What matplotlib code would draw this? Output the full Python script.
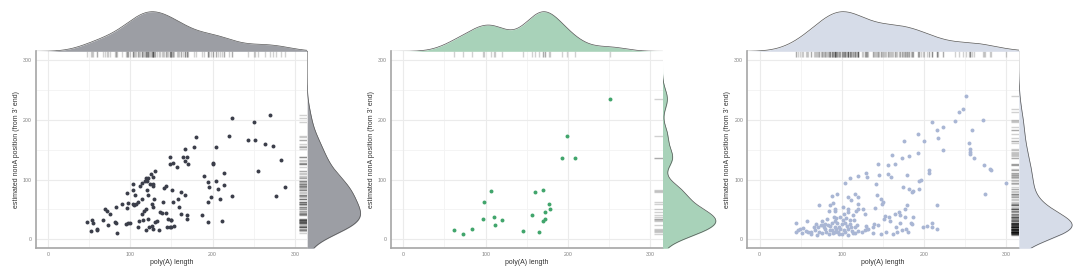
import matplotlib
matplotlib.use('Agg')
import matplotlib.pyplot as plt
import numpy as np

plt.rcParams['font.family'] = ['Liberation Sans', 'DejaVu Sans']

# panel 1 (dark grey)
p1_x = [47, 53, 55, 52, 60, 60, 67, 69, 72, 75, 73, 81, 82, 84, 83, 90, 97, 96, 95, 97,
        100, 96, 103, 103, 103, 104, 107, 109, 106, 114, 110, 109, 114, 112, 114, 118, 120, 119, 122, 120,
        121, 117, 119, 116, 121, 125, 128, 130, 124, 127, 128, 129, 126, 127, 130, 132, 123, 126, 119, 128,
        135, 136, 138, 143, 140, 141, 143, 146, 149, 148, 148, 148, 144,
        224, 270, 250, 180, 219.5, 243, 252, 264, 274, 166, 178, 204.5, 164, 169.5, 167, 170, 152, 157, 200, 201,
        283, 255, 189, 214, 194, 204.5, 196, 214, 207, 288, 277, 224, 197.5, 208.5, 194, 151, 162, 166, 158, 152,
        159, 161, 169, 169, 187, 195, 212, 150, 153, 150]
p1_y = [29, 32, 27, 14, 18, 15, 33, 51, 48, 43, 24, 29, 27, 11, 54, 59, 61, 52, 26, 28,
        27, 78, 93, 83, 60, 57, 59, 63, 74, 43, 31, 21, 68, 90, 94, 97, 97, 102, 102, 82,
        74, 48, 51, 32, 34, 109, 104, 114, 93, 93, 89, 68, 59, 55, 29, 31, 21, 23, 15, 17,
        16, 46, 44, 44, 62, 86, 89, 34, 33, 21, 138, 126, 20,
        203, 209, 196, 171, 173, 167, 166, 160, 156, 151, 154, 154, 138, 138, 132, 127, 128, 120.5, 128, 127,
        133, 115, 106, 110.5, 96, 97, 88, 91, 85, 88, 72, 72, 71, 67, 63, 82, 80, 74, 68, 62,
        54, 43, 41, 34, 40, 29, 30, 33, 22, 20]

# panel 2 (green)
p2_x = [251.6, 199, 193, 209, 106, 160, 170, 98, 177, 178, 156, 172, 97, 110, 120, 112, 172, 170,
        61, 73, 84, 146, 165]
p2_y = [235, 173, 136, 137, 81, 79, 82, 62, 59, 51, 41, 45, 34, 38, 32, 24, 34, 31,
        15, 9, 18, 14, 13]

# panel 3 (blue grey)
p3_x = [44, 44, 57, 49, 53, 52, 59, 63, 69, 71, 67, 72, 70, 74, 77, 80, 83, 79, 81, 86,
        85, 91, 93, 89, 95, 98, 100, 102, 100, 107, 111, 114, 116, 120, 72, 84, 85, 88, 89, 94,
        91, 92, 90, 93, 91, 101, 104, 110, 119, 107, 111, 116, 120, 107, 108, 102, 110, 105, 120, 117,
        119, 113, 101, 115,
        47, 56, 62, 66, 76, 78, 84, 88, 92, 96, 97, 104, 106, 108, 112, 116, 118, 88, 94, 110,
        82, 76, 98, 104,
        251, 242, 247, 272, 238, 210, 223, 216, 258, 193, 217, 175.5, 200, 254, 256, 256, 256, 223, 260, 193,
        181, 173, 161, 165, 156, 144, 273, 280, 281, 206, 206, 129, 131, 145, 156, 160, 179, 196, 194, 142,
        274, 174, 182, 187, 185, 194, 143, 147, 150, 149, 179, 216, 140, 126, 177, 128, 164, 169, 171, 177,
        186, 152, 157, 151, 158, 170, 166, 173, 184, 185, 178, 180, 199, 203, 209, 210, 216, 162, 167, 154,
        147, 139, 144, 138, 138, 132, 129, 128, 130, 125, 299]
p3_y = [28, 12, 30, 17, 19, 11, 12, 12, 26, 20, 15, 13, 8, 24, 24, 26, 24, 17, 12, 22,
        15, 20, 18, 11, 13, 17, 25, 15, 9, 18, 20, 11, 20, 14, 57, 47, 57, 73, 61, 76,
        50, 47, 37, 36, 31, 55, 95, 103, 106, 71, 66, 76, 71, 50, 45, 43, 32, 36, 60, 47,
        50, 41, 33, 32,
        15, 14, 9, 20, 10, 20, 9, 16, 12, 21, 9, 12, 22, 8, 14, 10, 24, 27, 28, 26,
        34, 30, 38, 28,
        240, 214, 219, 200, 198, 197, 189, 184, 184, 177, 170, 165, 164, 161, 151, 147, 143, 150, 136, 145,
        140, 136, 141, 126, 125, 127, 125, 118, 116, 117, 111, 111, 104, 107, 109, 104, 107, 99, 97, 92,
        76, 88, 85, 81, 79, 84, 75, 68, 63, 59, 58, 57, 52, 50, 50, 42, 42, 45, 40, 37,
        37, 39, 37, 34, 30, 28, 21, 16, 27, 25, 17, 12, 20, 22, 28, 21, 17, 9, 13, 12,
        9, 26, 24, 21, 10, 18, 23, 15, 17, 13, 94]

ticks = [0, 100, 200, 300]
tick_labels = ['0', '100', '200', '300']

W, H = 1088, 278


def fbox(x0, y0, x1, y1):
  # pixel box (top-left origin) -> figure fraction rect
  return [x0 / W, 1 - y1 / H, (x1 - x0) / W, (y1 - y0) / H]


def kde(v, grid, adjust):
  v = np.asarray(v, float)
  n = len(v)
  iqr = np.subtract(*np.percentile(v, [75, 25]))
  bw = adjust * 0.9 * min(v.std(ddof=1), iqr / 1.34) * n ** -0.2
  z = (grid[:, None] - v[None, :]) / bw
  return np.exp(-0.5 * z ** 2).sum(axis=1) / (n * bw * np.sqrt(2 * np.pi))


def draw_panel(fig, left, xs, ys, pcol, fcol, adjust):
  top, bottom, width = 51.3, 248.3, 271.5
  right = left + width
  lim = (-15, 315)

  ax = fig.add_axes(fbox(left, top, right, bottom))
  ax.set_xlim(lim)
  ax.set_ylim(lim)
  for s in ['top', 'right']:
    ax.spines[s].set_visible(False)
  for s in ['left', 'bottom']:
    ax.spines[s].set_color('#a6a6a6')
    ax.spines[s].set_linewidth(1.2)
  for v in [50, 150, 250]:
    ax.axvline(v, color='#f3f3f3', lw=0.6, zorder=0)
    ax.axhline(v, color='#f3f3f3', lw=0.6, zorder=0)
  for v in ticks:
    ax.axvline(v, color='#ebebeb', lw=0.8, zorder=0)
    ax.axhline(v, color='#ebebeb', lw=0.8, zorder=0)
  ax.set_xticks(ticks)
  ax.set_xticklabels(tick_labels)
  ax.set_yticks(ticks)
  ax.set_yticklabels(tick_labels)
  ax.tick_params(length=0, labelsize=3.8, colors='#808080', pad=3)

  ax.scatter(xs, ys, s=8, color=pcol, linewidths=0, zorder=3)
  ax.vlines(xs, 0.97, 1.0, transform=ax.get_xaxis_transform(), color='black', alpha=0.18, lw=1.0)
  ax.hlines(ys, 0.97, 1.0, transform=ax.get_yaxis_transform(), color='black', alpha=0.18, lw=1.0)

  fig.text((left + right) / 2 / W, 1 - 262.7 / H, 'poly(A) length', ha='center', va='center',
           fontsize=5, color='#333333')
  fig.text((left - 19.5) / W, 1 - (top + bottom) / 2 / H, "estimated nonA position (from 3' end)",
           rotation=90, ha='center', va='center', fontsize=5, color='#333333')

  grid = np.linspace(lim[0], lim[1], 400)

  dx = kde(xs, grid, adjust)
  axt = fig.add_axes(fbox(left, top - 41.6, right, top))
  axt.fill_between(grid, 0, dx, color=fcol, lw=0)
  axt.plot(grid, dx, color='#555555', lw=0.5)
  axt.set_xlim(lim)
  axt.set_ylim(0, dx.max() * 1.05)
  axt.axis('off')

  dy = kde(ys, grid, adjust)
  axr = fig.add_axes(fbox(right, top, right + 56, bottom))
  axr.fill_betweenx(grid, 0, dy, color=fcol, lw=0)
  axr.plot(dy, grid, color='#555555', lw=0.5)
  axr.set_ylim(lim)
  axr.set_xlim(0, dy.max() * 1.05)
  axr.axis('off')


def main():
  fig = plt.figure(figsize=(W / 100, H / 100), dpi=100)
  draw_panel(fig, 35.7, p1_x, p1_y, '#3b3e4a', '#9c9ea4', 1.3)
  draw_panel(fig, 391.0, p2_x, p2_y, '#41a56c', '#a8d2b9', 0.85)
  draw_panel(fig, 747.3, p3_x, p3_y, '#a9b6d4', '#d6dce8', 1.2)
  fig.savefig('out.png', dpi=100)


if __name__ == '__main__':
  main()
